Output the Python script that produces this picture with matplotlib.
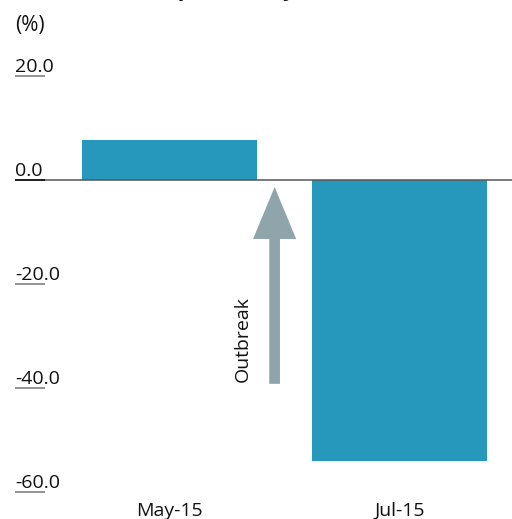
import matplotlib
matplotlib.use("Agg")
import matplotlib.pyplot as plt
from matplotlib.patches import FancyArrowPatch, ArrowStyle
from matplotlib import transforms

# Daten
categories = ["May-15", "Jul-15"]
values = [7.7, -54.0]
y_ticks = [20.0, 0.0, -20.0, -40.0, -60.0]
title_text = "Chinese arrivals: percent by week (Korea, Seoul)"
unit_label = "(%)"
arrow_label = "Outbreak"
arrow_x = 0.457
arrow_from = -39.2
arrow_to = -1.35

BAR_COLOR = "#2698bb"
ARROW_COLOR = "#8fa4ab"
TEXT_COLOR = "#111111"

plt.rcParams['font.family'] = ['Open Sans', 'DejaVu Sans']

W, H = 512, 519
fig = plt.figure(figsize=(W / 100, H / 100), dpi=100)

# Achsen in Pixeln: links 15, rechts 512, oben 60, unten 495
ax = fig.add_axes([15 / W, 1 - 495 / H, (512 - 15) / W, (495 - 60) / H])
x_left = (15 - 169.5) / 230
x_right = (512 - 169.5) / 230
ax.set_xlim(x_left, x_right)
ax.set_ylim(-(495 - 180) / 5.2, (180 - 60) / 5.2)
ax.axis("off")

xs = list(range(len(categories)))
ax.bar(xs, values, width=0.76, color=BAR_COLOR, zorder=2)

# Nulllinie
ax.plot([x_left, x_right], [0, 0], color="#555555", lw=1.1, zorder=3,
        solid_capstyle="butt")

# Y-Tick-Labels mit Unterstrich
x_ul = (45 - 169.5) / 230
for t in y_ticks:
    c = "#111111" if t == 0 else "#808080"
    ax.plot([x_left, x_ul], [t, t], color=c, lw=1.2, zorder=4,
            solid_capstyle="butt")
    ax.text(x_left, t + 0.8, f"{t:.1f}", ha="left", va="baseline",
            fontsize=14, color=TEXT_COLOR)

# X-Labels
trans = transforms.blended_transform_factory(ax.transData, fig.transFigure)
for x, lab in zip(xs, categories):
    ax.text(x, 3 / H, lab, transform=trans, ha="center", va="baseline",
            fontsize=14, color=TEXT_COLOR)

# Pfeil
arrow = FancyArrowPatch((arrow_x, arrow_from), (arrow_x, arrow_to),
                        arrowstyle=ArrowStyle.Simple(head_length=37.4,
                                                     head_width=31,
                                                     tail_width=7.7),
                        mutation_scale=1, shrinkA=0, shrinkB=0,
                        color=ARROW_COLOR, lw=0, zorder=3)
ax.add_patch(arrow)
ax.text((243 - 169.5) / 230, arrow_from + 0.4, arrow_label, rotation=90,
        ha="center", va="bottom", fontsize=14, color=TEXT_COLOR)

# Titel (oben abgeschnitten) und Einheit
fig.text(15 / W, 1 - 31 / H, unit_label, ha="left", va="baseline",
         fontsize=15, color=TEXT_COLOR)
fig.text(-12 / W, 1 + 4 / H, title_text, ha="left", va="baseline",
         fontsize=16, fontweight="bold", color=TEXT_COLOR)

fig.savefig("out.png", dpi=100)
